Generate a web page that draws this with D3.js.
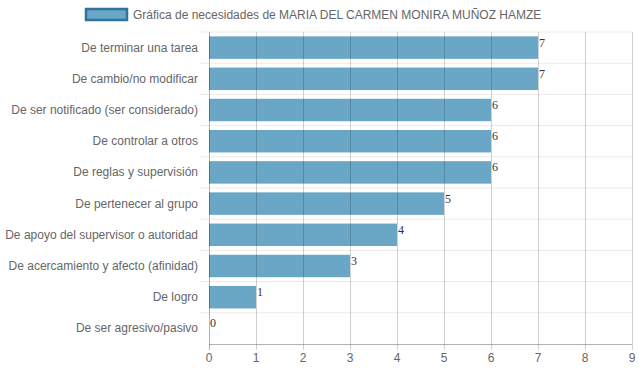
<!DOCTYPE html>
<html>
<head>
<meta charset="utf-8">
<script src="https://cdn.jsdelivr.net/npm/d3@7"></script>
<style>
  body { margin: 0; background: #fff; }
  text { font-family: "Liberation Sans", Arial, sans-serif; }
</style>
</head>
<body>
<div id="chart"></div>
<script>
// data
var categories = [
    "De terminar una tarea",
    "De cambio/no modificar",
    "De ser notificado (ser considerado)",
    "De controlar a otros",
    "De reglas y supervisión",
    "De pertenecer al grupo",
    "De apoyo del supervisor o autoridad",
    "De acercamiento y afecto (afinidad)",
    "De logro",
    "De ser agresivo/pasivo"
];
var values = [7, 7, 6, 6, 6, 5, 4, 3, 1, 0];
var xTicks = [0, 1, 2, 3, 4, 5, 6, 7, 8, 9];
var legendLabel = "Gráfica de necesidades de MARIA DEL CARMEN MONIRA MUÑOZ HAMZE";

var width = 639, height = 372;
var margin = { top: 32, right: 7, bottom: 28, left: 209 };
var innerW = width - margin.left - margin.right,
    innerH = height - margin.top - margin.bottom;

var svg = d3.select("#chart")
    .append("svg")
    .attr("width", width)
    .attr("height", height);

// legend
var legend = svg.append("g").attr("transform", "translate(85,8)");
legend.append("rect")
    .attr("x", 1).attr("y", 1)
    .attr("width", 41).attr("height", 11)
    .attr("fill", "#6aa6c6")
    .attr("stroke", "#2f74a0")
    .attr("stroke-width", 2.5);
legend.append("text")
    .attr("x", 48).attr("y", 11)
    .attr("font-size", 12)
    .attr("fill", "#666")
    .text(legendLabel);

var g = svg.append("g")
    .attr("transform", "translate(" + margin.left + "," + margin.top + ")");

var xScale = d3.scaleLinear().domain([0, 9]).range([0, innerW]);
var yScale = d3.scaleBand().domain(categories).range([0, innerH]).paddingInner(0).paddingOuter(0);

// horizontal grid lines between categories
var bands = d3.range(categories.length + 1);
g.append("g").selectAll("line")
    .data(bands.slice(0, -1))
    .join("line")
    .attr("x1", -9).attr("x2", innerW)
    .attr("y1", function (d) { return d * yScale.step(); })
    .attr("y2", function (d) { return d * yScale.step(); })
    .attr("stroke", "#ebebeb")
    .attr("stroke-width", 1);

// bars
var barH = yScale.step() * 0.72;
g.append("g").selectAll("rect")
    .data(values)
    .join("rect")
    .attr("x", 0)
    .attr("y", function (d, i) { return yScale(categories[i]) + (yScale.step() - barH) / 2; })
    .attr("width", function (d) { return xScale(d); })
    .attr("height", barH)
    .attr("fill", "#6aa6c6");

// vertical grid lines (drawn over bars, like the original)
g.append("g").selectAll("line")
    .data(xTicks)
    .join("line")
    .attr("x1", function (d) { return xScale(d) + 0.5; })
    .attr("x2", function (d) { return xScale(d) + 0.5; })
    .attr("y1", 0)
    .attr("y2", innerH + 6)
    .attr("stroke", function (d) { return d === 0 ? "rgba(0,0,0,0.3)" : "rgba(0,0,0,0.18)"; })
    .attr("stroke-width", 1);

// x axis baseline
g.append("line")
    .attr("x1", 0).attr("x2", innerW)
    .attr("y1", innerH + 0.5).attr("y2", innerH + 0.5)
    .attr("stroke", "rgba(0,0,0,0.3)");

// x tick labels
g.append("g").selectAll("text")
    .data(xTicks)
    .join("text")
    .attr("x", function (d) { return xScale(d); })
    .attr("y", innerH + 18)
    .attr("text-anchor", "middle")
    .attr("font-size", 12)
    .attr("fill", "#666")
    .text(function (d) { return d; });

// category labels
g.append("g").selectAll("text")
    .data(categories)
    .join("text")
    .attr("x", -11)
    .attr("y", function (d) { return yScale(d) + yScale.step() / 2 + 4; })
    .attr("text-anchor", "end")
    .attr("font-size", 12)
    .attr("fill", "#666")
    .text(function (d) { return d; });

// value labels at bar ends
g.append("g").selectAll("text")
    .data(values)
    .join("text")
    .attr("x", function (d) { return xScale(d) + 1; })
    .attr("y", function (d, i) { return yScale(categories[i]) + yScale.step() / 2 - 1; })
    .attr("font-family", "'Liberation Serif', 'Times New Roman', serif")
    .style("font-family", "'Liberation Serif', 'Times New Roman', serif")
    .attr("font-size", 12)
    .attr("fill", "#333")
    .text(function (d) { return d; });
</script>
</body>
</html>
